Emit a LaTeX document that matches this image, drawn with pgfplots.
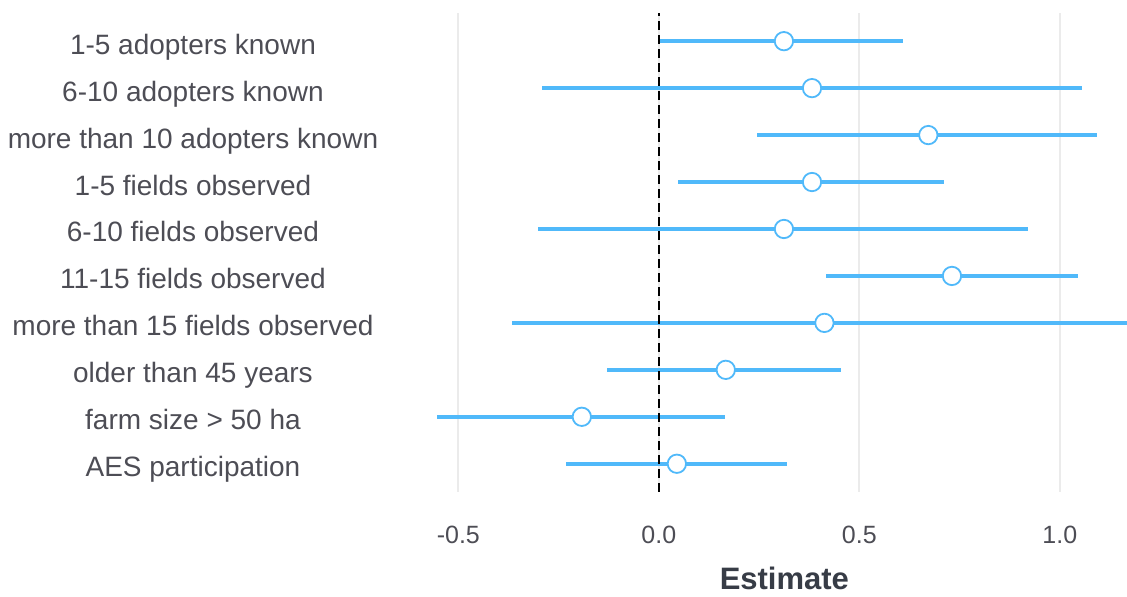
\documentclass[border=0pt]{standalone}
\usepackage{pgfplots}
\pgfplotsset{compat=1.18}
\usepackage{pgfplotstable}
\usepackage{fontspec}
\setmainfont{Liberation Sans}
\definecolor{ci}{RGB}{80,185,250}
\definecolor{lab}{RGB}{77,77,85}
\definecolor{titlec}{RGB}{55,60,70}
\definecolor{gridc}{RGB}{235,235,235}

\pgfplotstableread{
y est lo hi
10 0.312 0.000 0.609
9 0.382 -0.291 1.056
8 0.672 0.245 1.093
7 0.382 0.047 0.711
6 0.312 -0.302 0.921
5 0.731 0.418 1.045
4 0.413 -0.367 1.300
3 0.167 -0.130 0.454
2 -0.192 -0.553 0.164
1 0.045 -0.232 0.320
}\est

\begin{document}
\begin{tikzpicture}
\begin{axis}[
 scale only axis, width=371pt, height=239.5pt,
 xmin=-0.683, xmax=1.167, ymin=0.4, ymax=10.6,
 axis line style={draw=none},
 major tick length=0pt,
 xtick={-0.5,0,0.5,1}, xticklabels={{-0.5},{0.0},{0.5},{1.0}},
 ytick={1,2,3,4,5,6,7,8,9,10},
 yticklabels={AES participation,farm size > 50 ha,older than 45 years,more than 15 fields observed,11-15 fields observed,6-10 fields observed,1-5 fields observed,more than 10 adopters known,6-10 adopters known,1-5 adopters known},
 xmajorgrids, grid style={gridc, line width=1pt},
 xticklabel style={font=\fontsize{12.5}{14}\selectfont, text=lab, anchor=base, yshift=-26pt},
 yticklabel style={font=\fontsize{14}{16}\selectfont, text=lab, anchor=base, xshift=-96pt, yshift=-6.5pt},
 xlabel={Estimate},
 xlabel style={font=\fontsize{15.5}{18}\selectfont\bfseries, text=titlec, at={(axis description cs:0.5,0)}, anchor=base, yshift=-49pt, xshift=14.25pt},
]
\addplot[ci, only marks, mark=none, forget plot,
  error bars/.cd, x dir=both, x explicit, error mark=none,
  error bar style={draw=ci, solid, line width=2pt}]
  table[x=est, y=y, x error plus expr=\thisrow{hi}-\thisrow{est}, x error minus expr=\thisrow{est}-\thisrow{lo}] {\est};
\addplot[black, line width=1.2pt, dash pattern=on 4.5pt off 2.5pt] coordinates {(0,0.4) (0,10.6)};
\addplot[only marks, mark=*, mark size=4.6pt, mark options={fill=white, draw=ci, line width=0.9pt, solid}] table[x=est, y=y] {\est};
\end{axis}
\path (current axis.south west) ++(-192.5pt,-51pt) coordinate (bl);
\path (current axis.north east) ++(0pt,6.5pt) coordinate (tr);
\useasboundingbox (bl) rectangle (tr);
\end{tikzpicture}
\end{document}
